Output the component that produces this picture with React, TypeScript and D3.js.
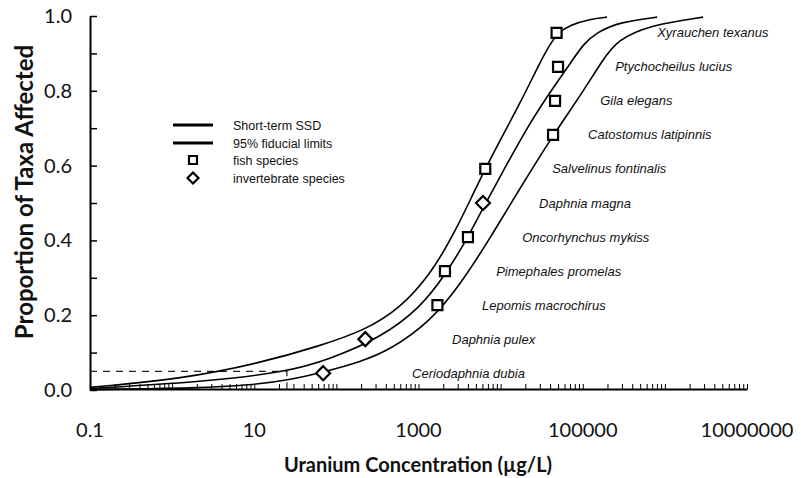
import React, { useRef, useEffect } from 'react';
import * as d3 from 'd3';

// taxa ranked from most to least sensitive
const species = [
  'Ceriodaphnia dubia',
  'Daphnia pulex',
  'Lepomis macrochirus',
  'Pimephales promelas',
  'Oncorhynchus mykiss',
  'Daphnia magna',
  'Salvelinus fontinalis',
  'Catostomus latipinnis',
  'Gila elegans',
  'Ptychocheilus lucius',
  'Xyrauchen texanus',
];
const taxonGroup = ['inv', 'inv', 'fish', 'fish', 'fish', 'inv', 'fish', 'fish', 'fish', 'fish', 'fish'];
const concentration = [69, 225, 1700, 2100, 4000, 6100, 6500, 43500, 46000, 50000, 48000];
const proportion = [0.045, 0.136, 0.227, 0.318, 0.409, 0.5, 0.591, 0.682, 0.773, 0.864, 0.955];
// where each species label starts (µg/L)
const labelStart = [836, 2560, 5950, 8820, 18300, 29400, 42400, 116000, 163000, 248000, 806000];

// curves
const ssdConc = [0.1, 2.19, 25.1, 83.8, 340, 1045, 2110, 4020, 6120, 9330, 22900, 46100, 70300, 101000, 150000, 285000, 806000];
const ssdProp = [0.004, 0.021, 0.048, 0.083, 0.139, 0.219, 0.307, 0.409, 0.487, 0.561, 0.717, 0.816, 0.872, 0.925, 0.957, 0.984, 0.997];
const lowConc = [0.1, 1.25, 11.8, 63, 224, 597, 1380, 2790, 5170, 9860, 17300, 30300, 40100, 50100, 70300, 123000, 198000];
const lowProp = [0.007, 0.029, 0.072, 0.118, 0.16, 0.219, 0.307, 0.422, 0.548, 0.668, 0.767, 0.877, 0.925, 0.955, 0.976, 0.992, 0.997];
const highConc = [0.1, 2.19, 8.9, 27.3, 69, 195, 451, 1380, 3210, 7450, 15900, 43600, 93000, 172000, 262000, 662000, 2920000];
const highProp = [0.001, 0.005, 0.013, 0.027, 0.048, 0.075, 0.107, 0.182, 0.281, 0.406, 0.527, 0.682, 0.786, 0.88, 0.936, 0.976, 0.997];

const hc5 = 25;
const hc5Prop = 0.05;

const xTickLabels = [0.1, 10, 1000, 100000, 10000000];
const yTicks = d3.range(0, 11).map(i => i / 10);

const App = () => {
  const ref = useRef(null);

  useEffect(() => {
    const svg = d3.select(ref.current);
    svg.selectAll('*').remove();

    const x = d3.scaleLog().domain([0.1, 1e7]).range([90, 747]);
    const y = d3.scaleLinear().domain([0, 1]).range([390, 16]);

    svg.append('rect').attr('width', 801).attr('height', 478).attr('fill', '#fff');

    // y axis
    const yAxis = svg.append('g')
      .attr('transform', 'translate(90,0)')
      .call(d3.axisLeft(y).tickValues(yTicks).tickSize(-7).tickSizeOuter(0).tickPadding(18)
        .tickFormat(d => (Math.round(+d * 10) % 2 === 0 ? d3.format('.1f')(+d) : '')));
    yAxis.select('.domain').attr('stroke', '#000').attr('stroke-width', 2);
    yAxis.selectAll('.tick line').attr('stroke', '#000').attr('stroke-width', 1.5);
    yAxis.selectAll('text')
      .attr('font-family', 'Lato, sans-serif').attr('font-size', 20).attr('fill', '#111');

    // x axis (minor log ticks, labels added below)
    const minor = [];
    for (let e = -1; e < 7; e++) for (let k = 1; k < 10; k++) minor.push(k * Math.pow(10, e));
    minor.push(1e7);
    const xAxis = svg.append('g')
      .attr('transform', 'translate(0,389)')
      .call(d3.axisBottom(x).tickValues(minor).tickSize(-5).tickSizeOuter(0).tickFormat(() => ''));
    xAxis.select('.domain').attr('stroke', '#000').attr('stroke-width', 2);
    xAxis.selectAll('.tick line').attr('stroke', '#000').attr('stroke-width', 1);

    svg.append('g').selectAll('text')
      .data(xTickLabels)
      .enter()
      .append('text')
      .attr('x', d => x(d))
      .attr('y', 437)
      .attr('text-anchor', 'middle')
      .attr('font-family', 'Lato, sans-serif')
      .attr('font-size', 20)
      .attr('fill', '#111')
      .text(d => String(d));

    // axis titles
    svg.append('text')
      .attr('x', 418).attr('y', 472)
      .attr('text-anchor', 'middle')
      .attr('font-family', 'Lato, sans-serif').attr('font-weight', 700).attr('font-size', 20)
      .attr('fill', '#111')
      .text('Uranium Concentration (µg/L)');
    svg.append('text')
      .attr('transform', 'translate(33,192) rotate(-90)')
      .attr('text-anchor', 'middle')
      .attr('font-family', 'Lato, sans-serif').attr('font-weight', 700).attr('font-size', 24)
      .attr('fill', '#111')
      .text('Proportion of Taxa Affected');

    // HC5 guide
    svg.append('path')
      .attr('d', `M${x(0.1)},${y(hc5Prop)}H${x(hc5)}V${y(0)}`)
      .attr('fill', 'none').attr('stroke', '#222').attr('stroke-width', 1.2)
      .attr('stroke-dasharray', '7,6');

    // curves
    const line = d3.line()
      .x(d => x(d[0]))
      .y(d => y(d[1]))
      .curve(d3.curveBasis);
    [[lowConc, lowProp], [ssdConc, ssdProp], [highConc, highProp]].forEach(([c, p]) => {
      svg.append('path')
        .attr('d', line(c.map((v, i) => [v, p[i]])))
        .attr('fill', 'none').attr('stroke', '#000').attr('stroke-width', 1.6);
    });

    // points
    const pts = species.map((s, i) => ({ s, g: taxonGroup[i], c: concentration[i], p: proportion[i], l: labelStart[i] }));
    svg.append('g').selectAll('path')
      .data(pts)
      .enter()
      .append('path')
      .attr('transform', d => `translate(${x(d.c)},${y(d.p)})`)
      .attr('d', d => (d.g === 'fish' ? 'M-5,-5H5V5H-5Z' : 'M0,-7L7,0L0,7L-7,0Z'))
      .attr('fill', '#fff').attr('stroke', '#000').attr('stroke-width', 2.2);

    svg.append('g').selectAll('text')
      .data(pts)
      .enter()
      .append('text')
      .attr('x', d => x(d.l))
      .attr('y', d => y(d.p) + 4.5)
      .attr('font-family', '"Liberation Sans", Arial, sans-serif')
      .attr('font-style', 'italic')
      .attr('font-size', 13)
      .attr('fill', '#111')
      .text(d => d.s);

    // legend
    const legend = svg.append('g').attr('font-family', '"Liberation Sans", Arial, sans-serif')
      .attr('font-size', 12.5).attr('fill', '#111');
    const rows = [
      { t: 'Short-term SSD', k: 'line', yy: 125 },
      { t: '95% fiducial limits', k: 'line', yy: 143 },
      { t: 'fish species', k: 'fish', yy: 160 },
      { t: 'invertebrate species', k: 'inv', yy: 178 },
    ];
    rows.forEach(r => {
      if (r.k === 'line') {
        legend.append('line').attr('x1', 173).attr('x2', 213).attr('y1', r.yy).attr('y2', r.yy)
          .attr('stroke', '#000').attr('stroke-width', 3);
      } else {
        legend.append('path')
          .attr('transform', `translate(193,${r.yy})`)
          .attr('d', r.k === 'fish' ? 'M-4,-4H4V4H-4Z' : 'M0,-5.5L5.5,0L0,5.5L-5.5,0Z')
          .attr('fill', '#fff').attr('stroke', '#000').attr('stroke-width', 2.2);
      }
      legend.append('text').attr('x', 233).attr('y', r.yy + 4.5).text(r.t);
    });
  }, []);

  return (
    <svg ref={ref} width={801} height={478}
      style={{ position: 'absolute', left: 0, top: 0, display: 'block' }} />
  );
};

export default App;
